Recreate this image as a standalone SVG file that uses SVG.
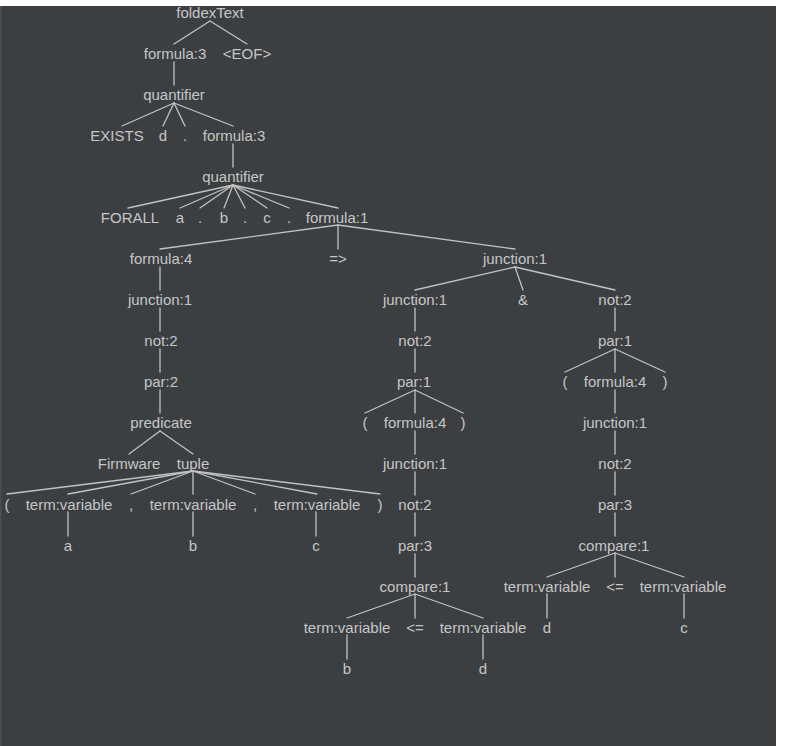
<svg xmlns="http://www.w3.org/2000/svg" width="789" height="746" viewBox="0 0 789 746">
  <style>
    .bg { fill: #3c3f42; }
    .edge { stroke: #c2c2c2; stroke-width: 1.3; fill: none; stroke-linecap: round; }
    .lbl { font-family: "Liberation Sans", Arial, Helvetica, sans-serif; font-size: 15px; fill: #c6c6c6; text-anchor: middle; }
  </style>

  <!-- canvas -->
  <rect x="0" y="0" width="789" height="746" fill="#ffffff"/>
  <rect class="bg" x="0" y="6" width="776" height="740"/>
  <rect x="0" y="6" width="1.5" height="740" fill="#4c4f52"/>

  <!-- parse tree edges -->
  <g id="edges" class="edge">
    <line x1="210" y1="21" x2="174" y2="44"/>
    <line x1="210" y1="21" x2="247" y2="44"/>
    <line x1="174" y1="62" x2="174" y2="85"/>
    <line x1="174" y1="103" x2="122" y2="126"/>
    <line x1="174" y1="103" x2="163" y2="126"/>
    <line x1="174" y1="103" x2="185" y2="126"/>
    <line x1="174" y1="103" x2="233" y2="126"/>
    <line x1="233" y1="144" x2="233" y2="167"/>
    <line x1="233" y1="185" x2="128" y2="208"/>
    <line x1="233" y1="185" x2="180" y2="208"/>
    <line x1="233" y1="185" x2="200" y2="208"/>
    <line x1="233" y1="185" x2="224" y2="208"/>
    <line x1="233" y1="185" x2="245" y2="208"/>
    <line x1="233" y1="185" x2="267" y2="208"/>
    <line x1="233" y1="185" x2="289" y2="208"/>
    <line x1="233" y1="185" x2="338" y2="208"/>
    <line x1="338" y1="225" x2="160" y2="249"/>
    <line x1="338" y1="225" x2="338" y2="249"/>
    <line x1="338" y1="225" x2="515" y2="249"/>
    <!-- left branch: formula:4 -->
    <line x1="160" y1="267" x2="160" y2="290"/>
    <line x1="160" y1="308" x2="160" y2="331"/>
    <line x1="160" y1="349" x2="160" y2="372"/>
    <line x1="160" y1="390" x2="160" y2="413"/>
    <line x1="160" y1="431" x2="129" y2="454"/>
    <line x1="160" y1="431" x2="193" y2="454"/>
    <line x1="193" y1="471" x2="7" y2="494"/>
    <line x1="193" y1="471" x2="68" y2="494"/>
    <line x1="193" y1="471" x2="131" y2="494"/>
    <line x1="193" y1="471" x2="193" y2="494"/>
    <line x1="193" y1="471" x2="255" y2="494"/>
    <line x1="193" y1="471" x2="317" y2="494"/>
    <line x1="193" y1="471" x2="380" y2="494"/>
    <line x1="68" y1="512" x2="68" y2="536"/>
    <line x1="193" y1="512" x2="193" y2="536"/>
    <line x1="316" y1="512" x2="316" y2="536"/>
    <!-- right branch: junction:1 -->
    <line x1="515" y1="267" x2="415" y2="290"/>
    <line x1="515" y1="267" x2="523" y2="290"/>
    <line x1="515" y1="267" x2="615" y2="290"/>
    <line x1="415" y1="308" x2="415" y2="331"/>
    <line x1="415" y1="349" x2="415" y2="372"/>
    <line x1="415" y1="390" x2="365" y2="413"/>
    <line x1="415" y1="390" x2="415" y2="413"/>
    <line x1="415" y1="390" x2="463" y2="413"/>
    <line x1="415" y1="431" x2="415" y2="454"/>
    <line x1="415" y1="472" x2="415" y2="495"/>
    <line x1="415" y1="513" x2="415" y2="536"/>
    <line x1="415" y1="554" x2="415" y2="577"/>
    <line x1="415" y1="594" x2="347" y2="618"/>
    <line x1="415" y1="594" x2="415" y2="618"/>
    <line x1="415" y1="594" x2="483" y2="618"/>
    <line x1="347" y1="635" x2="347" y2="659"/>
    <line x1="483" y1="635" x2="483" y2="659"/>
    <line x1="615" y1="308" x2="615" y2="331"/>
    <line x1="615" y1="349" x2="565" y2="372"/>
    <line x1="615" y1="349" x2="615" y2="372"/>
    <line x1="615" y1="349" x2="665" y2="372"/>
    <line x1="615" y1="390" x2="615" y2="413"/>
    <line x1="615" y1="431" x2="615" y2="454"/>
    <line x1="615" y1="472" x2="615" y2="495"/>
    <line x1="615" y1="513" x2="615" y2="536"/>
    <line x1="615" y1="553" x2="547" y2="577"/>
    <line x1="615" y1="553" x2="615" y2="577"/>
    <line x1="615" y1="553" x2="684" y2="577"/>
    <line x1="547" y1="594" x2="547" y2="618"/>
    <line x1="684" y1="594" x2="684" y2="618"/>
  </g>

  <!-- parse tree nodes -->
  <g class="lbl">
    <g id="n0"><text x="210" y="18">foldexText</text></g>
    <g id="n1"><text x="175" y="59">formula:3</text></g>
    <g id="n2"><text x="247" y="59">&lt;EOF&gt;</text></g>
    <g id="n3"><text x="174" y="100">quantifier</text></g>
    <g id="n4"><text x="117" y="141">EXISTS</text></g>
    <g id="n5"><text x="163" y="141">d</text></g>
    <g id="n6"><text x="185" y="141">.</text></g>
    <g id="n7"><text x="234" y="141">formula:3</text></g>
    <g id="n8"><text x="233" y="182">quantifier</text></g>
    <g id="n9"><text x="130" y="223">FORALL</text></g>
    <g id="n10"><text x="180" y="223">a</text></g>
    <g id="n11"><text x="200" y="223">.</text></g>
    <g id="n12"><text x="224" y="223">b</text></g>
    <g id="n13"><text x="245" y="223">.</text></g>
    <g id="n14"><text x="267" y="223">c</text></g>
    <g id="n15"><text x="289" y="223">.</text></g>
    <g id="n16"><text x="337" y="223">formula:1</text></g>
    <g id="n17"><text x="161" y="264">formula:4</text></g>
    <g id="n18"><text x="338" y="264">=&gt;</text></g>
    <g id="n19"><text x="515" y="264">junction:1</text></g>
    <g id="n20"><text x="160" y="305">junction:1</text></g>
    <g id="n21"><text x="161" y="346">not:2</text></g>
    <g id="n22"><text x="161" y="387">par:2</text></g>
    <g id="n23"><text x="161" y="428">predicate</text></g>
    <g id="n24"><text x="129" y="469">Firmware</text></g>
    <g id="n25"><text x="193" y="469">tuple</text></g>
    <g id="n26"><text x="7" y="510">(</text></g>
    <g id="n27"><text x="69" y="510">term:variable</text></g>
    <g id="n28"><text x="131" y="510">,</text></g>
    <g id="n29"><text x="193" y="510">term:variable</text></g>
    <g id="n30"><text x="255" y="510">,</text></g>
    <g id="n31"><text x="317" y="510">term:variable</text></g>
    <g id="n32"><text x="380" y="510">)</text></g>
    <g id="n33"><text x="68" y="551">a</text></g>
    <g id="n34"><text x="193" y="551">b</text></g>
    <g id="n35"><text x="316" y="551">c</text></g>
    <g id="n36"><text x="415" y="305">junction:1</text></g>
    <g id="n37"><text x="523" y="305">&amp;</text></g>
    <g id="n38"><text x="615" y="305">not:2</text></g>
    <g id="n39"><text x="415" y="346">not:2</text></g>
    <g id="n40"><text x="414" y="387">par:1</text></g>
    <g id="n41"><text x="365" y="428">(</text></g>
    <g id="n42"><text x="415" y="428">formula:4</text></g>
    <g id="n43"><text x="463" y="428">)</text></g>
    <g id="n44"><text x="415" y="469">junction:1</text></g>
    <g id="n45"><text x="415" y="510">not:2</text></g>
    <g id="n46"><text x="415" y="551">par:3</text></g>
    <g id="n47"><text x="415" y="592">compare:1</text></g>
    <g id="n48"><text x="347" y="633">term:variable</text></g>
    <g id="n49"><text x="415" y="633">&lt;=</text></g>
    <g id="n50"><text x="483" y="633">term:variable</text></g>
    <g id="n51"><text x="347" y="674">b</text></g>
    <g id="n52"><text x="483" y="674">d</text></g>
    <g id="n53"><text x="615" y="346">par:1</text></g>
    <g id="n54"><text x="565" y="387">(</text></g>
    <g id="n55"><text x="615" y="387">formula:4</text></g>
    <g id="n56"><text x="665" y="387">)</text></g>
    <g id="n57"><text x="615" y="428">junction:1</text></g>
    <g id="n58"><text x="615" y="469">not:2</text></g>
    <g id="n59"><text x="615" y="510">par:3</text></g>
    <g id="n60"><text x="614" y="551">compare:1</text></g>
    <g id="n61"><text x="547" y="592">term:variable</text></g>
    <g id="n62"><text x="615" y="592">&lt;=</text></g>
    <g id="n63"><text x="683" y="592">term:variable</text></g>
    <g id="n64"><text x="547" y="633">d</text></g>
    <g id="n65"><text x="684" y="633">c</text></g>
  </g>
</svg>
